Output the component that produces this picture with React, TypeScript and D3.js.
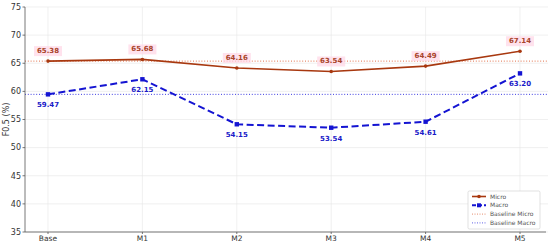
import React from "react";
import * as d3 from "d3";

const categories = ["Base", "M1", "M2", "M3", "M4", "M5"];
const microValues = [65.38, 65.68, 64.16, 63.54, 64.49, 67.14];
const macroValues = [59.47, 62.15, 54.15, 53.54, 54.61, 63.2];
const yTicks = [35, 40, 45, 50, 55, 60, 65, 70, 75];
const baselineMicro = 65.38;
const baselineMacro = 59.47;

const W = 550;
const H = 242;
const margin = { left: 25, right: 2, top: 7, bottom: 10 };

const MICRO = "#a8380f";
const MACRO = "#1414d2";
const FONT = "DejaVu Sans, sans-serif";

export default function App() {
  const x = d3
    .scalePoint<string>()
    .domain(categories)
    .range([48, 520]);
  const y = d3
    .scaleLinear()
    .domain([35, 75])
    .range([H - margin.bottom, margin.top]);

  const line = d3
    .line<number>()
    .x((d, i) => x(categories[i]) as number)
    .y((d) => y(d));

  const x0 = margin.left;
  const x1 = W - margin.right;

  return (
    <div style={{ position: "absolute", left: 0, top: 0 }}>
      <svg width={W} height={H} style={{ display: "block", background: "#fff" }} fontFamily={FONT}>
        {/* grid */}
        {yTicks.map((t) => (
          <line key={"gy" + t} x1={x0} x2={x1} y1={y(t)} y2={y(t)} stroke="#e6e6e6" strokeWidth={0.6} />
        ))}
        {categories.map((c) => (
          <line key={"gx" + c} x1={x(c)} x2={x(c)} y1={y(75)} y2={y(35)} stroke="#e6e6e6" strokeWidth={0.6} />
        ))}

        {/* baselines */}
        <line x1={x0} x2={x1} y1={y(baselineMicro)} y2={y(baselineMicro)} stroke="#e0704a" strokeWidth={1} strokeDasharray="1 1.8" />
        <line x1={x0} x2={x1} y1={y(baselineMacro)} y2={y(baselineMacro)} stroke="#3a3ae0" strokeWidth={1} strokeDasharray="1 1.8" />

        {/* axes */}
        <line x1={x0} x2={x0} y1={y(75)} y2={y(35)} stroke="#555" strokeWidth={0.8} />
        <line x1={x0} x2={x1 - 2} y1={y(35)} y2={y(35)} stroke="#555" strokeWidth={0.8} />
        {yTicks.map((t) => (
          <g key={"ty" + t}>
            <line x1={x0 - 2.5} x2={x0} y1={y(t)} y2={y(t)} stroke="#555" strokeWidth={0.8} />
            <text x={x0 - 4} y={y(t)} dy="0.35em" textAnchor="end" fontSize={8} fill="#333">
              {t}
            </text>
          </g>
        ))}
        {categories.map((c) => (
          <g key={"tx" + c}>
            <line x1={x(c)} x2={x(c)} y1={y(35)} y2={y(35) + 2} stroke="#555" strokeWidth={0.8} />
            <text x={x(c)} y={y(35) + 8.5} textAnchor="middle" fontSize={7.5} fill="#333">
              {c}
            </text>
          </g>
        ))}
        <text transform={`translate(9,${(y(75) + y(35)) / 2}) rotate(-90)`} textAnchor="middle" fontSize={8} fill="#333">
          F0.5 (%)
        </text>

        {/* micro series */}
        <path d={line(microValues) ?? ""} fill="none" stroke={MICRO} strokeWidth={1.6} />
        {microValues.map((v, i) => (
          <circle key={"mi" + i} cx={x(categories[i])} cy={y(v)} r={1.8} fill={MICRO} />
        ))}

        {/* macro series */}
        <path d={line(macroValues) ?? ""} fill="none" stroke={MACRO} strokeWidth={2} strokeDasharray="7 3.5" />
        {macroValues.map((v, i) => (
          <rect key={"ma" + i} x={(x(categories[i]) as number) - 2.2} y={y(v) - 2.2} width={4.4} height={4.4} fill={MACRO} />
        ))}

        {/* micro labels */}
        {microValues.map((v, i) => {
          const cx = x(categories[i]) as number;
          const cy = y(v) - 8;
          return (
            <g key={"ml" + i}>
              <rect x={cx - 14} y={cy - 7} width={28} height={10} fill="#ffd6e6" opacity={0.7} />
              <text x={cx} y={cy} textAnchor="middle" fontSize={7} fontWeight="bold" fill="#a8442a">
                {v.toFixed(2)}
              </text>
            </g>
          );
        })}

        {/* macro labels */}
        {macroValues.map((v, i) => (
          <text
            key={"al" + i}
            x={x(categories[i])}
            y={y(v) + 13}
            textAnchor="middle"
            fontSize={7}
            fontWeight="bold"
            fill="#1a1ac8"
          >
            {v.toFixed(2)}
          </text>
        ))}

        {/* legend */}
        <g transform="translate(468,191)">
          <rect x={0} y={0} width={72} height={38} fill="#fff" stroke="#ccc" strokeWidth={0.6} rx={1.5} />
          {[
            { label: "Micro", color: MICRO, dash: "", w: 1.6, mark: "c" },
            { label: "Macro", color: MACRO, dash: "4 2", w: 2, mark: "s" },
            { label: "Baseline Micro", color: "#e0704a", dash: "1 1.5", w: 0.8, mark: "" },
            { label: "Baseline Macro", color: "#3a3ae0", dash: "1 1.5", w: 0.8, mark: "" },
          ].map((e, i) => {
            const ly = 5.5 + i * 8.8;
            return (
              <g key={e.label}>
                <line x1={4} x2={18} y1={ly} y2={ly} stroke={e.color} strokeWidth={e.w} strokeDasharray={e.dash} />
                {e.mark === "c" && <circle cx={11} cy={ly} r={1.8} fill={e.color} />}
                {e.mark === "s" && <rect x={9} y={ly - 2} width={4} height={4} fill={e.color} />}
                <text x={22} y={ly} dy="0.35em" fontSize={6} fill="#555">
                  {e.label}
                </text>
              </g>
            );
          })}
        </g>
      </svg>
    </div>
  );
}
